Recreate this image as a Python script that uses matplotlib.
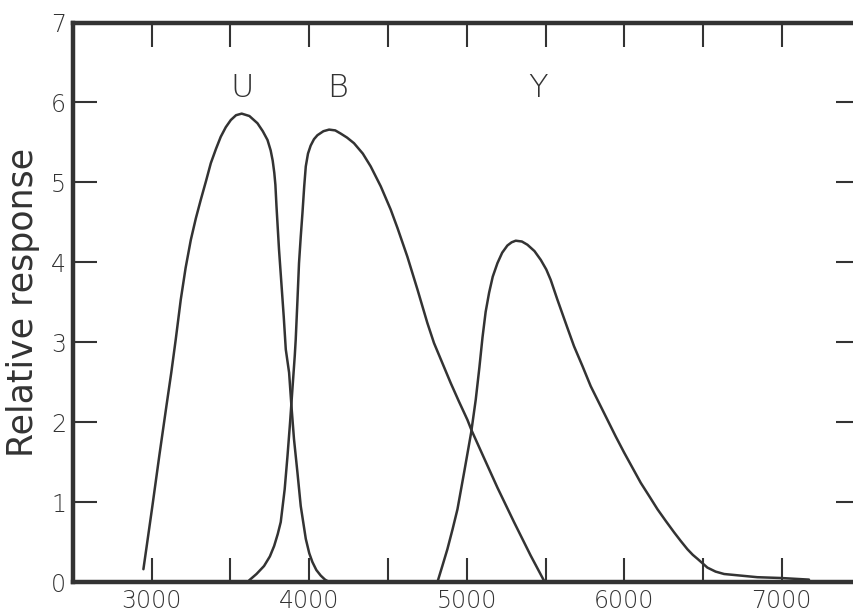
"""
UBV filter response curves (U, B, Y) redrawn from a scanned figure.
"""

import matplotlib
matplotlib.use('Agg')
import matplotlib.pyplot as plt

# wavelength [A] and relative response
u_wave = [2947, 2968, 3004, 3048, 3093, 3124, 3152, 3184, 3215, 3248, 3280, 3311,
          3345, 3375, 3408, 3438, 3470, 3502, 3535, 3571, 3620, 3671, 3705, 3735,
          3755, 3768, 3778, 3785, 3792, 3808, 3823, 3838, 3851, 3872, 3887, 3903,
          3925, 3946, 3978, 4000, 4020, 4045, 4073, 4100, 4126]
u_resp = [0.16, 0.45, 0.95, 1.58, 2.20, 2.62, 3.03, 3.53, 3.93, 4.28, 4.55, 4.78,
          5.02, 5.24, 5.42, 5.57, 5.69, 5.78, 5.84, 5.86, 5.83, 5.74, 5.64, 5.53,
          5.40, 5.27, 5.12, 4.97, 4.70, 4.16, 3.74, 3.32, 2.91, 2.62, 2.20, 1.79,
          1.37, 0.95, 0.54, 0.36, 0.25, 0.15, 0.08, 0.03, 0.0]

b_wave = [3618, 3665, 3713, 3750, 3777, 3800, 3819, 3844, 3862, 3878, 3893, 3908,
          3914, 3925, 3935, 3946, 3957, 3968, 3978, 3992, 4009, 4030, 4052, 4090,
          4126, 4165, 4200, 4240, 4284, 4340, 4390, 4454, 4517, 4560, 4623, 4687,
          4750, 4792, 4845, 4898, 4950, 5004, 5030, 5110, 5195, 5300, 5406, 5495]
b_resp = [0.02, 0.10, 0.20, 0.32, 0.45, 0.60, 0.75, 1.16, 1.58, 1.99, 2.41, 2.83,
          3.03, 3.52, 3.99, 4.32, 4.62, 4.95, 5.20, 5.36, 5.46, 5.54, 5.59, 5.64,
          5.66, 5.65, 5.61, 5.56, 5.49, 5.36, 5.20, 4.95, 4.66, 4.43, 4.07, 3.66,
          3.24, 2.99, 2.74, 2.49, 2.26, 2.03, 1.90, 1.55, 1.18, 0.75, 0.33, 0.0]

y_wave = [4814, 4845, 4877, 4910, 4941, 4985, 5028, 5057, 5080, 5100, 5120, 5142,
          5165, 5195, 5225, 5258, 5285, 5311, 5350, 5385, 5430, 5470, 5505, 5533,
          5576, 5639, 5681, 5735, 5787, 5840, 5893, 5946, 5999, 6052, 6105, 6160,
          6211, 6265, 6317, 6360, 6401, 6435, 6465, 6528, 6580, 6634, 6740, 6845,
          6994, 7173]
y_resp = [0.0, 0.20, 0.41, 0.66, 0.91, 1.39, 1.87, 2.28, 2.68, 3.06, 3.38, 3.62,
          3.82, 3.99, 4.12, 4.21, 4.25, 4.27, 4.26, 4.22, 4.14, 4.03, 3.91, 3.78,
          3.53, 3.18, 2.95, 2.70, 2.45, 2.24, 2.03, 1.82, 1.62, 1.43, 1.24, 1.07,
          0.91, 0.76, 0.62, 0.51, 0.41, 0.34, 0.29, 0.18, 0.13, 0.10, 0.08, 0.06,
          0.05, 0.03]

curve_names = ['U', 'B', 'Y']
name_pos = [(3571, 6.18), (4181, 6.18), (5451, 6.18)]

x_ticks = [3000, 3500, 4000, 4500, 5000, 5500, 6000, 6500, 7000]
x_labels = ['3000', '', '4000', '', '5000', '', '6000', '', '7000']
y_ticks = [0, 1, 2, 3, 4, 5, 6, 7]

ink = '#333333'
plt.rcParams['font.family'] = ['DejaVu Sans']
plt.rcParams['font.weight'] = 'light'

fig = plt.figure(figsize=(8.54, 6.12), dpi=100)
# right spine sits just past the image edge, like in the cropped scan
ax = fig.add_axes([73 / 854, 30 / 612, 787.5 / 854, 559.5 / 612])

for wave, resp in [(u_wave, u_resp), (b_wave, b_resp), (y_wave, y_resp)]:
    ax.plot(wave, resp, color=ink, lw=1.8, solid_capstyle='round',
            solid_joinstyle='round', clip_on=False)

for name, (px, py) in zip(curve_names, name_pos):
    ax.text(px, py, name, ha='center', va='center', fontsize=23, color=ink)

ax.set_xlim(2500, 7500)
ax.set_ylim(0, 7)
ax.set_xticks(x_ticks)
ax.set_xticklabels(x_labels)
ax.set_yticks(y_ticks)

for side in ['left', 'right', 'top', 'bottom']:
    ax.spines[side].set_linewidth(3.2)
    ax.spines[side].set_color(ink)

ax.tick_params(axis='both', direction='in', length=17, width=1.5, color=ink,
               labelsize=17, labelcolor=ink, top=True, right=True)
ax.tick_params(axis='x', pad=5)
ax.tick_params(axis='y', pad=5)

ax.set_ylabel('Relative response', fontsize=25, color=ink, labelpad=8)

fig.savefig('out.png', dpi=100)
